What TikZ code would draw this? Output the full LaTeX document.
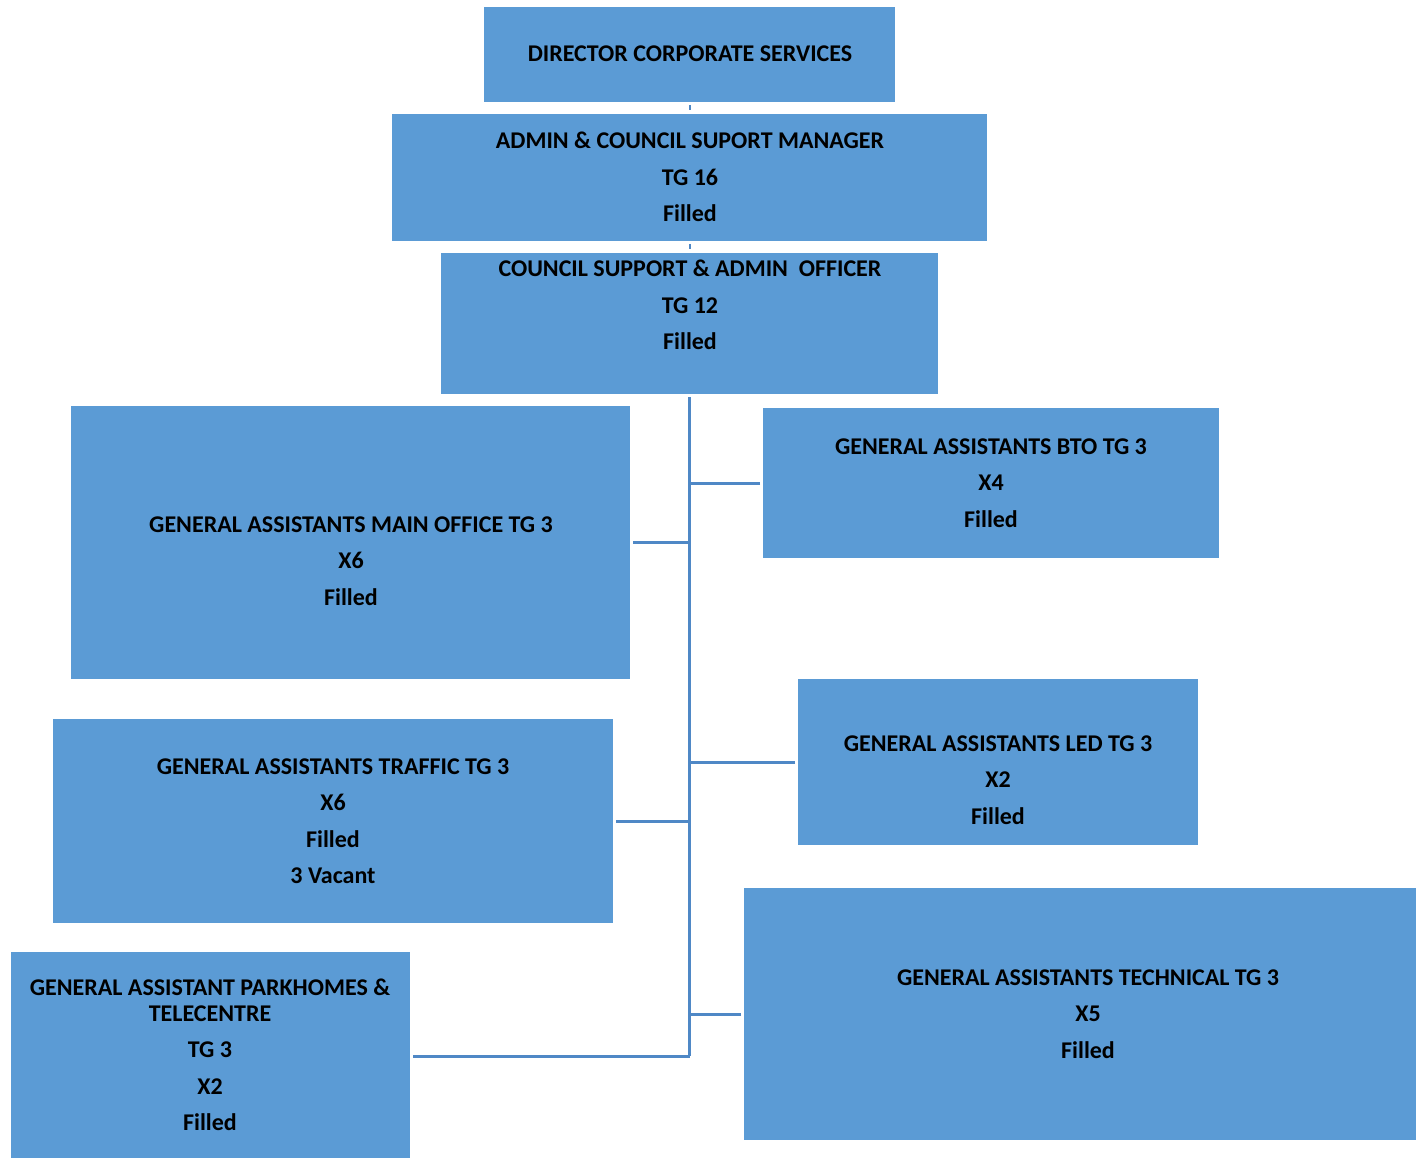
\documentclass[tikz,border=0pt]{standalone}
\usepackage{fontspec}
\setmainfont{Carlito}
\definecolor{boxblue}{HTML}{5B9BD5}
\definecolor{lineblue}{HTML}{4F88C6}
\begin{document}
\begin{tikzpicture}[x=1pt,y=-1pt,
  box/.style={fill=boxblue, draw=none, anchor=north west, inner sep=0pt},
  txt/.style={align=center, font=\fontsize{24}{36.5}\selectfont\bfseries, text=black, inner sep=0pt},
  conn/.style={draw=lineblue, line width=3pt},
  tick/.style={draw=lineblue, line width=2pt}]
\useasboundingbox (0,0) rectangle (1416,1157);
% boxes
\node[box, minimum width=411pt, minimum height=95pt] (dir) at (484,7) {};
\node[box, minimum width=595pt, minimum height=127pt] (mgr) at (392,114) {};
\node[box, minimum width=497pt, minimum height=141pt] (cso) at (441,253) {};
\node[box, minimum width=559pt, minimum height=273pt] (main) at (71,406) {};
\node[box, minimum width=456pt, minimum height=150pt] (bto) at (763,408) {};
\node[box, minimum width=560pt, minimum height=204pt] (traf) at (53,719) {};
\node[box, minimum width=400pt, minimum height=166pt] (led) at (798,679) {};
\node[box, minimum width=399pt, minimum height=210pt] (park) at (11,952) {};
\node[box, minimum width=672pt, minimum height=252pt] (tech) at (744,888) {};
% texts
\node[txt] (tdir) at (690,54) {DIRECTOR CORPORATE SERVICES};
\node[txt] (tmgr) at (690,177) {ADMIN \& COUNCIL SUPORT MANAGER\\TG 16\\Filled};
\node[txt] (tcso) at (690,305) {COUNCIL SUPPORT \& ADMIN\ \ OFFICER\\TG 12\\Filled};
\node[txt] (tmain) at (351,561) {GENERAL ASSISTANTS MAIN OFFICE TG 3\\X6\\Filled};
\node[txt] (tbto) at (991,483) {GENERAL ASSISTANTS BTO TG 3\\X4\\Filled};
\node[txt] (ttraf) at (333,821) {GENERAL ASSISTANTS TRAFFIC TG 3\\X6\\Filled\\3 Vacant};
\node[txt] (tled) at (998,780) {GENERAL ASSISTANTS LED TG 3\\X2\\Filled};
\node[txt] (tpark) at (210,1055) {GENERAL ASSISTANT PARKHOMES \&\\[-10.5pt]TELECENTRE\\TG 3\\X2\\Filled};
\node[txt] (ttech) at (1088,1014) {GENERAL ASSISTANTS TECHNICAL TG 3\\X5\\Filled};
% connectors
\coordinate (ttop) at (689.5,397);
\coordinate (tbot) at (689.5,1056);
\draw[tick] ([yshift=-3pt]dir.south) -- ([yshift=-8pt]dir.south);
\draw[tick] ([yshift=-3pt]mgr.south) -- ([yshift=-8pt]mgr.south);
\draw[conn] (ttop) -- (tbot);
\draw[conn] ([xshift=-3pt]bto.west) -- (bto.west -| ttop);
\draw[conn] ([xshift=3pt]main.east) -- (main.east -| ttop);
\draw[conn] ([xshift=-3pt]led.west) -- (led.west -| ttop);
\draw[conn] ([xshift=3pt]traf.east) -- (traf.east -| ttop);
\draw[conn] ([xshift=-3pt]tech.west) -- (tech.west -| ttop);
\draw[conn] ([xshift=3pt]park.east |- tbot) -- (tbot);
\end{tikzpicture}
\end{document}
